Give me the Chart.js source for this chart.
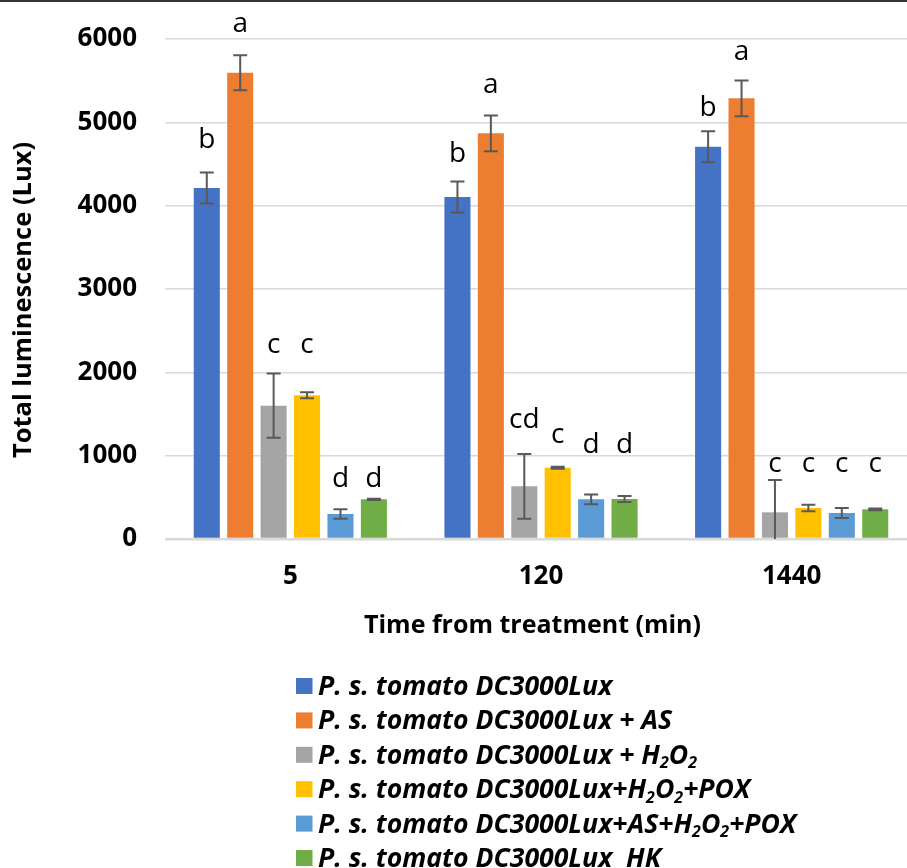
<!DOCTYPE html>
<html><head><meta charset="utf-8">
<script src="https://cdn.jsdelivr.net/npm/chart.js@4.4.1/dist/chart.umd.min.js"></script>
<style>
html,body{margin:0;padding:0;background:#fff;overflow:hidden;width:907px;height:868px;position:relative;}
#wrap{position:absolute;left:0;top:0;width:917px;height:868px;}
#topline{position:absolute;left:0;top:0;width:907px;height:2px;background:#333;z-index:2;}
</style></head><body>
<div id="wrap"><canvas id="c" width="917" height="868"></canvas></div>
<div id="topline"></div>
<script>
// ---- data ----
const categories = ['5', '120', '1440'];
const seriesNames = [
  'P. s. tomato DC3000Lux',
  'P. s. tomato DC3000Lux + AS',
  'P. s. tomato DC3000Lux + H₂O₂',
  'P. s. tomato DC3000Lux+H₂O₂+POX',
  'P. s. tomato DC3000Lux+AS+H₂O₂+POX',
  'P. s. tomato DC3000Lux  HK'
];
const luxBase      = [4212, 4104, 4708];
const luxAS        = [5596, 4868, 5288];
const luxH2O2      = [1600, 632, 320];
const luxH2O2POX   = [1724, 856, 372];
const luxASH2O2POX = [300, 476, 312];
const luxHK        = [476, 480, 356];

const errBase      = [185, 186, 186];
const errAS        = [210, 214, 214];
const errH2O2      = [386, 388, 388];
const errH2O2POX   = [36, 12, 40];
const errASH2O2POX = [56, 58, 60];
const errHK        = [8, 36, 10];

const letBase      = ['b', 'b', 'b'];
const letAS        = ['a', 'a', 'a'];
const letH2O2      = ['c', 'cd', 'c'];
const letH2O2POX   = ['c', 'c', 'c'];
const letASH2O2POX = ['d', 'd', 'c'];
const letHK        = ['d', 'd', 'c'];

// letter annotation levels (Lux units)
const lvlBase      = [4688, 4528, 5076];
const lvlAS        = [6088, 5356, 5748];
const lvlH2O2      = [2228, 1328, 804];
const lvlH2O2POX   = [2228, 1148, 804];
const lvlASH2O2POX = [628, 1028, 804];
const lvlHK        = [628, 1028, 804];

const yTicks = [0, 1000, 2000, 3000, 4000, 5000, 6000];
const xTitle = 'Time from treatment (min)';
const yTitle = 'Total luminescence (Lux)';

// ---- styles ----
const colors = ['#4472C4', '#ED7D31', '#A5A5A5', '#FFC000', '#5B9BD5', '#70AD47'];
const FONT = '"Open Sans", "Noto Sans", sans-serif';

const values = [luxBase, luxAS, luxH2O2, luxH2O2POX, luxASH2O2POX, luxHK];
const errors = [errBase, errAS, errH2O2, errH2O2POX, errASH2O2POX, errHK];
const letters = [letBase, letAS, letH2O2, letH2O2POX, letASH2O2POX, letHK];
const levels = [lvlBase, lvlAS, lvlH2O2, lvlH2O2POX, lvlASH2O2POX, lvlHK];

const datasets = seriesNames.map((name, i) => ({
  label: name,
  data: values[i],
  backgroundColor: colors[i],
  borderWidth: 0,
  categoryPercentage: 0.8,
  barPercentage: 0.78
}));

const errorBarPlugin = {
  id: 'errorBars',
  afterDatasetsDraw(chart) {
    const ctx = chart.ctx, yS = chart.scales.y;
    ctx.save();
    chart.data.datasets.forEach((ds, i) => {
      const meta = chart.getDatasetMeta(i);
      meta.data.forEach((bar, j) => {
        const v = ds.data[j], e = errors[i][j];
        const yTop = yS.getPixelForValue(v + e);
        const lowV = v - e;
        const yBot = yS.getPixelForValue(Math.max(0, lowV));
        ctx.strokeStyle = '#595959';
        ctx.lineWidth = 2;
        ctx.beginPath();
        ctx.moveTo(bar.x, yTop); ctx.lineTo(bar.x, yBot);
        ctx.moveTo(bar.x - 7, yTop); ctx.lineTo(bar.x + 7, yTop);
        if (lowV >= 0) { ctx.moveTo(bar.x - 7, yBot); ctx.lineTo(bar.x + 7, yBot); }
        ctx.stroke();
        // significance letter
        ctx.fillStyle = '#000';
        ctx.font = '28px ' + FONT;
        ctx.textAlign = 'center';
        ctx.textBaseline = 'alphabetic';
        ctx.fillText(letters[i][j], bar.x, yS.getPixelForValue(levels[i][j]));
      });
    });
    ctx.restore();
  }
};

function drawRich(ctx, text, x, y, size, weight) {
  // draws text, rendering '₂' as a lowered smaller 2
  let cx = x;
  for (const ch of text) {
    if (ch === '₂') {
      ctx.font = weight + ' ' + Math.round(size * 0.62) + 'px ' + FONT;
      ctx.fillText('2', cx, y + size * 0.17);
      cx += ctx.measureText('2').width;
    } else {
      ctx.font = weight + ' ' + size + 'px ' + FONT;
      ctx.fillText(ch, cx, y);
      cx += ctx.measureText(ch).width;
    }
  }
}

const decorPlugin = {
  id: 'decor',
  afterDraw(chart) {
    const ctx = chart.ctx;
    ctx.save();
    ctx.fillStyle = '#000';
    // y axis title
    ctx.save();
    ctx.translate(30.5, 300);
    ctx.rotate(-Math.PI / 2);
    ctx.font = 'bold 25.5px ' + FONT;
    ctx.textAlign = 'center';
    ctx.textBaseline = 'alphabetic';
    ctx.fillText(yTitle, 0, 0);
    ctx.restore();
    // x axis title
    ctx.font = 'bold 25px ' + FONT;
    ctx.textAlign = 'center';
    ctx.textBaseline = 'alphabetic';
    ctx.fillText(xTitle, 532.5, 633);
    // legend
    ctx.textAlign = 'left';
    ctx.textBaseline = 'alphabetic';
    chart.data.datasets.forEach((ds, i) => {
      const cy = 686 + i * 34.4;
      ctx.fillStyle = ds.backgroundColor;
      ctx.fillRect(296, cy - 8, 16.5, 16);
      ctx.fillStyle = '#000';
      drawRich(ctx, ds.label, 318, cy + 9, 26.6, 'italic bold');
    });
    ctx.restore();
  }
};

new Chart(document.getElementById('c'), {
  type: 'bar',
  data: { labels: categories, datasets },
  options: {
    responsive: false,
    animation: false,
    devicePixelRatio: 1,
    layout: { padding: { left: 0, right: 0, top: 39, bottom: 0 } },
    plugins: { legend: { display: false }, tooltip: { enabled: false } },
    scales: {
      x: {
        grid: { display: false, drawTicks: false },
        border: { display: false },
        ticks: { color: '#000', font: { family: FONT, size: 26, weight: 'bold' }, padding: 22, maxRotation: 0, autoSkip: false },
        afterFit(s) { s.height = 868 - 39 - 500; }
      },
      y: {
        min: 0, max: 6000,
        afterBuildTicks(s) { s.ticks = yTicks.map(v => ({ value: v })); },
        grid: {
          color: '#D9D9D9',
          lineWidth: (c) => (c.tick && c.tick.value === 0 ? 2.5 : 1.5),
          drawTicks: false
        },
        border: { display: false },
        ticks: { color: '#000', font: { family: FONT, size: 26, weight: 'bold', lineHeight: 0.6 }, padding: 28, callback: (v) => String(v) },
        afterFit(s) { s.width = 165; }
      }
    }
  },
  plugins: [errorBarPlugin, decorPlugin]
});
</script>
</body></html>
